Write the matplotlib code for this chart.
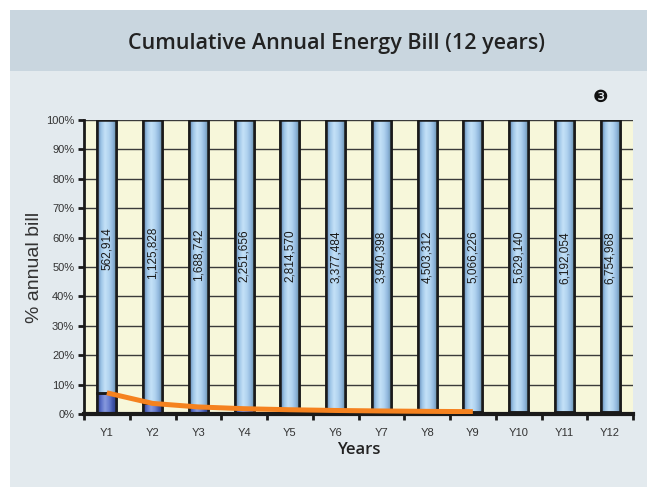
import numpy as np
import matplotlib.pyplot as plt
from matplotlib.patches import Rectangle
from matplotlib.colors import LinearSegmentedColormap

# data
years = ['Y1', 'Y2', 'Y3', 'Y4', 'Y5', 'Y6', 'Y7', 'Y8', 'Y9', 'Y10', 'Y11', 'Y12']
cumulative_bill = ['562,914', '1,125,828', '1,688,742', '2,251,656', '2,814,570', '3,377,484',
                   '3,940,398', '4,503,312', '5,066,226', '5,629,140', '6,192,054', '6,754,968']
share_pct = [7.2, 3.6, 2.4, 1.8, 1.45, 1.2, 1.03, 0.9, 0.8, 0.72, 0.65, 0.6]   # dark bottom part
rest_pct = [100 - v for v in share_pct]
line_pct = [7.2, 3.6, 2.4, 1.8, 1.45, 1.2, 1.03, 0.9, 0.8]                   # orange line, Y1..Y9

W, H = 647, 487
fig = plt.figure(figsize=(W / 100, H / 100), dpi=100)
fig.patch.set_facecolor('white')

# background panels
fig.patches.append(Rectangle((10 / W, 0), 1 - 10 / W, 1 - 10 / H, transform=fig.transFigure,
                             facecolor='#e3eaee', edgecolor='none', zorder=-10))
fig.patches.append(Rectangle((10 / W, 1 - 71 / H), 1 - 10 / W, 61 / H, transform=fig.transFigure,
                             facecolor='#c9d6df', edgecolor='none', zorder=-9))

fig.text(336 / W, 1 - 44 / H, 'Cumulative Annual Energy Bill (12 years)', ha='center', va='center',
         fontsize=15.5, fontweight=600, family='Open Sans', color='#222222')
fig.text(601 / W, 1 - 97 / H, '\u2778', ha='center', va='center', fontsize=12.5,
         family='DejaVu Sans', color='#111111')

ax = fig.add_axes([84 / W, 1 - 414 / H, (633 - 84) / W, (414 - 120) / H])
ax.set_facecolor('#f7f7da')

x = np.arange(len(years))
bw = 0.42

light = LinearSegmentedColormap.from_list('light', ['#5a7fae', '#9cc4e6', '#c4e1f7', '#b2d4f0', '#8fb6dc', '#62889f'])
dark = LinearSegmentedColormap.from_list('dark', ['#2a3a8a', '#5a70c8', '#8799dd', '#6a7fd0', '#3f54a8', '#2a3a80'])
grad = np.linspace(0, 1, 64).reshape(1, -1)

def shade(bars, cmap):
    for b in bars:
        x0, y0 = b.get_x(), b.get_y()
        im = ax.imshow(grad, cmap=cmap, aspect='auto', extent=[x0, x0 + b.get_width(), y0, y0 + b.get_height()],
                       zorder=2, interpolation='bilinear')
        im.set_clip_path(b)

b1 = ax.bar(x, share_pct, bw, color='#4a5db0', edgecolor='#1a1a1a', linewidth=1.8, zorder=2)
b2 = ax.bar(x, rest_pct, bw, bottom=share_pct, color='#b8d8f0', edgecolor='#1a1a1a', linewidth=1.8, zorder=2)
shade(b1, dark)
shade(b2, light)
# redraw outlines on top of gradients
for b in list(b1) + list(b2):
    ax.add_patch(Rectangle((b.get_x(), b.get_y()), b.get_width(), b.get_height(), fill=False,
                           edgecolor='#1a1a1a', linewidth=1.8, zorder=3))

for xi, lab, s in zip(x, cumulative_bill, share_pct):
    ax.text(xi, s + (100 - s) * 0.53, lab, rotation=90, ha='center', va='center', fontsize=8.5,
            family='Liberation Sans', color='#1a1a1a', zorder=5)

ax.plot(x[:len(line_pct)], line_pct, color='#f5821f', linewidth=3.6, solid_capstyle='butt',
        solid_joinstyle='round', zorder=6)

ax.set_xlim(-0.5, len(years) - 0.5)
ax.set_ylim(0, 100)
ax.set_yticks(np.arange(0, 101, 10))
ax.set_yticklabels([f'{v}%' for v in range(0, 101, 10)], family='Liberation Sans', fontsize=8, color='#333333')
ax.yaxis.grid(True, color='#3a3a3a', linewidth=1.0, zorder=1)
ax.set_axisbelow(True)

ax.set_xticks(x)
ax.set_xticklabels(years, family='Liberation Sans', fontsize=8, color='#333333')
ax.tick_params(axis='x', length=0, pad=10)
ax.set_xticks(np.arange(-0.5, len(years), 1), minor=True)
ax.tick_params(axis='x', which='minor', length=4, width=2, color='#1a1a1a', direction='out')
ax.tick_params(axis='y', length=4, width=2, color='#1a1a1a', pad=3)

for s in ['top', 'right']:
    ax.spines[s].set_visible(False)
ax.spines['left'].set_linewidth(2)
ax.spines['bottom'].set_linewidth(3)
ax.spines['left'].set_color('#1a1a1a')
ax.spines['bottom'].set_color('#1a1a1a')

ax.set_ylabel('% annual bill', family='Liberation Sans', fontsize=14, color='#333333', labelpad=2)
ax.set_xlabel('Years', family='Open Sans', fontsize=12, fontweight=600, color='#222222', labelpad=3)

fig.savefig('out.png', dpi=100)
